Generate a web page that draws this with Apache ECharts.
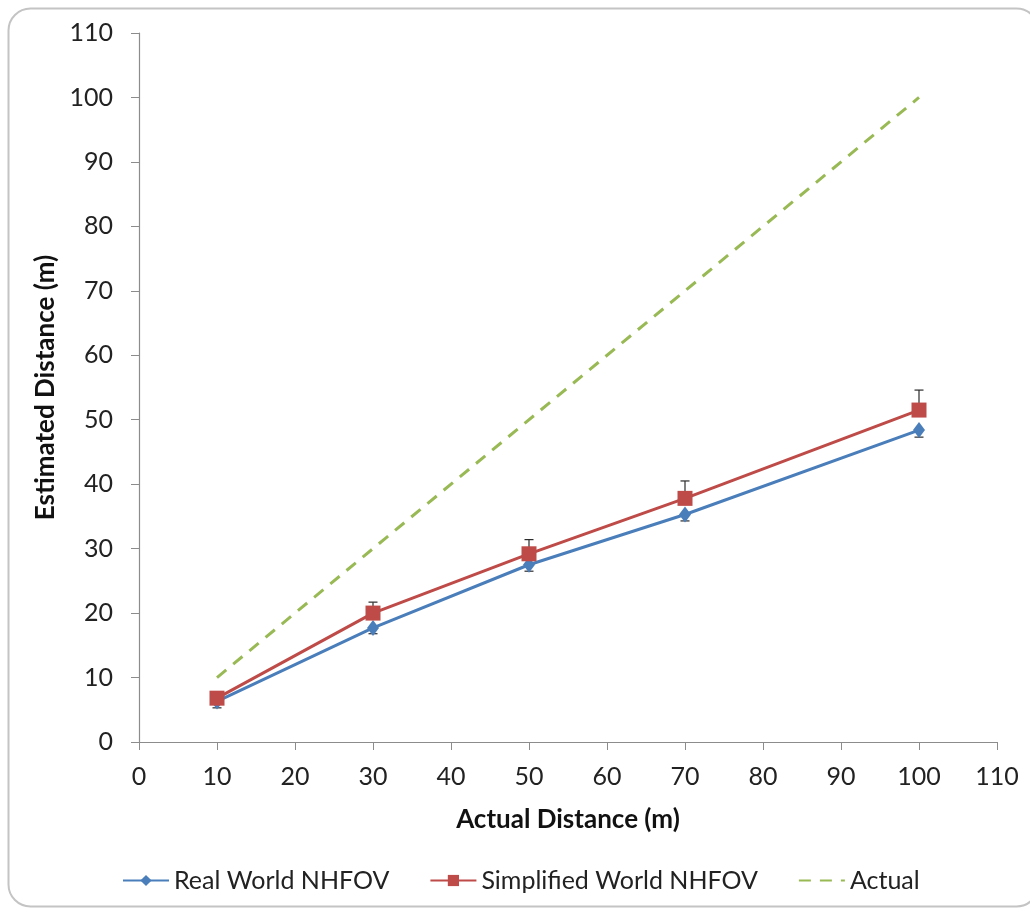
<!DOCTYPE html>
<html><head><meta charset="utf-8">
<script src="https://cdn.jsdelivr.net/npm/echarts@6/dist/echarts.min.js"></script>
<style>html,body{margin:0;padding:0;background:#fff}#c{width:1030px;height:908px}</style>
</head><body><div id="c"></div>
<script>
const distances = [10, 30, 50, 70, 100];
const realWorld = [6.3, 17.7, 27.5, 35.3, 48.4];
const realWorldErr = [1.0, 0.9, 1.0, 1.0, 1.1];
const simplified = [6.8, 20.0, 29.2, 37.8, 51.5];
const simplifiedErr = [0.6, 1.7, 2.2, 2.7, 3.1];
const actual = [10, 100];
const xTicks = [0,10,20,30,40,50,60,70,80,90,100,110];

const FONT = 'Lato';
const chart = echarts.init(document.getElementById('c'));

function errSeries(vals, errs, dir, color) {
  return {
    type: 'custom', silent: true, z: 1,
    data: distances.map((d, i) => [d, vals[i], vals[i] + dir * errs[i]]),
    renderItem: function (params, api) {
      const p0 = api.coord([api.value(0), api.value(1)]);
      const p1 = api.coord([api.value(0), api.value(2)]);
      const w = 4.5;
      return { type: 'group', children: [
        { type: 'line', shape: { x1: p0[0], y1: p0[1], x2: p1[0], y2: p1[1] }, style: { stroke: color, lineWidth: 1.2 } },
        { type: 'line', shape: { x1: p1[0] - w, y1: p1[1], x2: p1[0] + w, y2: p1[1] }, style: { stroke: color, lineWidth: 1.2 } }
      ]};
    }
  };
}

chart.setOption({
  animation: false,
  textStyle: { fontFamily: FONT },
  graphic: [{
    type: 'rect', left: 6, top: 6, z: -10,
    shape: { width: 1030, height: 898, r: 22 },
    style: { fill: 'none', stroke: '#c4c4c4', lineWidth: 2 }
  }],
  grid: { left: 139, right: 33, top: 33, bottom: 166 },
  legend: {
    bottom: 10, left: 117, itemWidth: 46, itemHeight: 14, itemGap: 40,
    textStyle: { fontSize: 25, color: '#222', fontFamily: FONT },
    data: [
      { name: 'Real World NHFOV' },
      { name: 'Simplified World NHFOV' },
      { name: 'Actual', itemStyle: { color: 'rgba(0,0,0,0)', borderColor: 'rgba(0,0,0,0)', borderWidth: 0 } }
    ]
  },
  xAxis: {
    type: 'value', min: 0, max: 110, interval: 10,
    name: 'Actual Distance (m)', nameLocation: 'middle', nameGap: 65,
    nameTextStyle: { fontSize: 26, fontWeight: 'bold', color: '#111', fontFamily: FONT },
    axisLine: { show: true, lineStyle: { color: '#8c8c8c', width: 1.2 } },
    axisTick: { show: true, length: 8, inside: false, lineStyle: { color: '#8c8c8c' } },
    axisLabel: { fontSize: 25, color: '#222', margin: 22, fontFamily: FONT, formatter: v => xTicks.includes(v) ? String(v) : '' },
    splitLine: { show: false }
  },
  yAxis: {
    type: 'value', min: 0, max: 110, interval: 10,
    name: 'Estimated Distance (m)', nameLocation: 'middle', nameGap: 77, nameRotate: 90,
    nameTextStyle: { fontSize: 26, fontWeight: 'bold', color: '#111', fontFamily: FONT },
    axisLine: { show: true, lineStyle: { color: '#8c8c8c', width: 1.2 } },
    axisTick: { show: true, length: 8, lineStyle: { color: '#8c8c8c' } },
    axisLabel: { fontSize: 25, color: '#222', margin: 26, fontFamily: FONT },
    splitLine: { show: false }
  },
  series: [
    errSeries(realWorld, realWorldErr, -1, '#2b2b2b'),
    errSeries(simplified, simplifiedErr, 1, '#2b2b2b'),
    {
      name: 'Actual', type: 'line', z: 2,
      data: actual.map(v => [v, v]),
      symbol: 'none',
      lineStyle: { color: '#98b954', width: 3, type: [12, 9] },
      itemStyle: { color: '#98b954' }
    },
    {
      name: 'Real World NHFOV', type: 'line', z: 3,
      data: distances.map((d, i) => [d, realWorld[i]]),
      symbol: 'diamond', symbolSize: [12, 16],
      lineStyle: { color: '#4a7ebb', width: 3 },
      itemStyle: { color: '#4a7ebb' }
    },
    {
      name: 'Simplified World NHFOV', type: 'line', z: 4,
      data: distances.map((d, i) => [d, simplified[i]]),
      symbol: 'rect', symbolSize: 15,
      lineStyle: { color: '#be4b48', width: 3 },
      itemStyle: { color: '#be4b48' }
    }
  ]
});
</script></body></html>
